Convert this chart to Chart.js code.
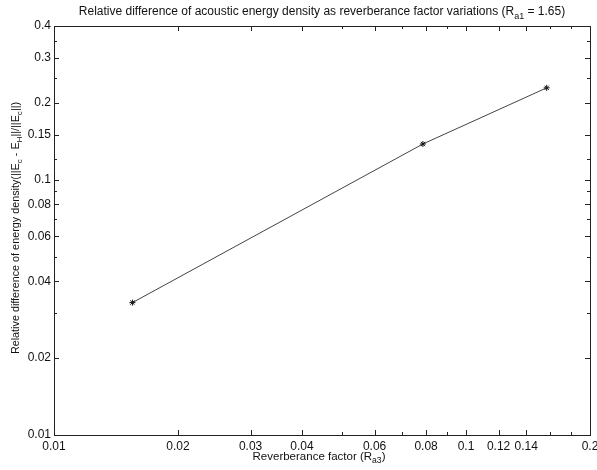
<!DOCTYPE html>
<html>
<head>
<meta charset="utf-8">
<title>Relative difference of acoustic energy density</title>
<script src="https://cdn.jsdelivr.net/npm/chart.js"></script>
<style>
  html, body { margin: 0; padding: 0; background: #fff; }
  #wrap { width: 597px; height: 470px; }
</style>
</head>
<body>
<div id="wrap"><canvas id="relChart"></canvas></div>
<script>
// data
const reverbFactor = [0.0155, 0.0786, 0.157];
const relDiff = [0.033, 0.138, 0.229];

const xTicks = [0.01, 0.02, 0.03, 0.04, 0.06, 0.08, 0.1, 0.12, 0.14, 0.2];
const xMinor = [0.05, 0.07, 0.09, 0.16, 0.18];
const yTicks = [0.01, 0.02, 0.04, 0.06, 0.08, 0.1, 0.15, 0.2, 0.3, 0.4];
const yMinor = [0.03, 0.05, 0.07, 0.09, 0.12, 0.25, 0.35];

const FONT = '"Liberation Sans", Arial, sans-serif';

// draws a string made of pieces, some of them subscripts
function drawParts(ctx, parts, size, x, y) {
    let w = 0;
    parts.forEach(p => {
        ctx.font = (p.sub ? size * 0.75 : size) + 'px ' + FONT;
        p.w = ctx.measureText(p.t).width;
        w += p.w;
    });
    let cx = x - w / 2;
    parts.forEach(p => {
        ctx.font = (p.sub ? size * 0.75 : size) + 'px ' + FONT;
        ctx.fillText(p.t, cx, p.sub ? y + size * 0.35 : y);
        cx += p.w;
    });
}

const labelsPlugin = {
    id: 'matlabFrame',
    afterDraw(chart) {
        const ctx = chart.ctx;
        const a = chart.chartArea;
        const xs = chart.scales.x, ys = chart.scales.y;
        ctx.save();
        ctx.strokeStyle = '#222';
        ctx.lineWidth = 1;
        ctx.strokeRect(Math.round(a.left) + 0.5, Math.round(a.top) + 0.5,
            Math.round(a.right - a.left), Math.round(a.bottom - a.top));

        // inward ticks on all four sides
        ctx.beginPath();
        const xt = (v, len) => {
            const px = Math.round(xs.getPixelForValue(v)) + 0.5;
            ctx.moveTo(px, a.bottom); ctx.lineTo(px, a.bottom - len);
            ctx.moveTo(px, a.top); ctx.lineTo(px, a.top + len);
        };
        const yt = (v, len) => {
            const py = Math.round(ys.getPixelForValue(v)) + 0.5;
            ctx.moveTo(a.left, py); ctx.lineTo(a.left + len, py);
            ctx.moveTo(a.right, py); ctx.lineTo(a.right - len, py);
        };
        xTicks.forEach(v => xt(v, 5));
        xMinor.forEach(v => xt(v, 3));
        yTicks.forEach(v => yt(v, 5));
        yMinor.forEach(v => yt(v, 3));
        ctx.stroke();

        ctx.fillStyle = '#111';
        ctx.textBaseline = 'middle';
        drawParts(ctx, [
            {t: 'Relative difference of acoustic energy density as reverberance factor variations (R'},
            {t: 'a1', sub: true},
            {t: ' = 1.65)'}
        ], 12, (a.left + a.right) / 2, 12);

        drawParts(ctx, [
            {t: 'Reverberance factor (R'},
            {t: 'a3', sub: true},
            {t: ')'}
        ], 11.5, 319, 457);

        ctx.translate(16, 228);
        ctx.rotate(-Math.PI / 2);
        drawParts(ctx, [
            {t: 'Relative difference of energy density(||E'},
            {t: 'c', sub: true},
            {t: ' - E'},
            {t: 'H', sub: true},
            {t: '||/||E'},
            {t: 'c', sub: true},
            {t: '||)'}
        ], 10.8, 0, 0);
        ctx.restore();
    }
};

const ctx = document.getElementById('relChart').getContext('2d');

const chart = new Chart(ctx, {
    type: 'scatter',
    data: {
        datasets: [{
            data: reverbFactor.map((x, i) => ({x: x, y: relDiff[i]})),
            showLine: true,
            borderColor: '#444',
            borderWidth: 1,
            pointStyle: 'star',
            pointRadius: 3,
            pointBorderColor: '#111',
            pointBackgroundColor: '#111',
            pointBorderWidth: 1
        }]
    },
    options: {
        responsive: true,
        maintainAspectRatio: false,
        animation: false,
        layout: { padding: { top: 26, right: 7, left: 0, bottom: 0 } },
        plugins: {
            legend: { display: false },
            tooltip: { enabled: false }
        },
        scales: {
            x: {
                type: 'logarithmic',
                min: 0.01,
                max: 0.2,
                afterBuildTicks: s => { s.ticks = xTicks.map(v => ({value: v})); },
                afterFit: s => { s.height = 35; s.paddingLeft = 0; s.paddingRight = 0; },
                grid: { display: false, drawTicks: false, tickLength: 0 },
                border: { display: false },
                ticks: {
                    autoSkip: false,
                    maxRotation: 0,
                    padding: 4,
                    color: '#111',
                    font: { family: FONT, size: 12 },
                    callback: v => String(v)
                }
            },
            y: {
                type: 'logarithmic',
                min: 0.01,
                max: 0.4,
                afterBuildTicks: s => { s.ticks = yTicks.map(v => ({value: v})); },
                afterFit: s => { s.width = 54; s.paddingTop = 0; s.paddingBottom = 0; },
                grid: { display: false, drawTicks: false, tickLength: 0 },
                border: { display: false },
                ticks: {
                    autoSkip: false,
                    padding: 3,
                    color: '#111',
                    font: { family: FONT, size: 12 },
                    callback: v => String(v)
                }
            }
        }
    },
    plugins: [labelsPlugin]
});
</script>
</body>
</html>
